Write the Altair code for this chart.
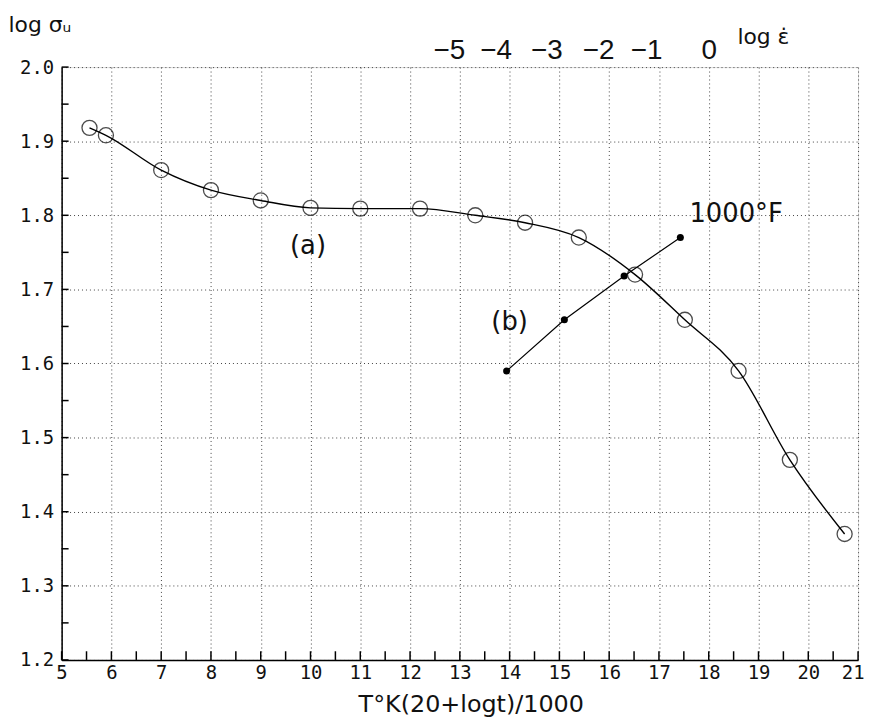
import altair as alt
import pandas as pd
import numpy as np

# Curve (a): open circles
a_x = [5.56, 5.89, 7.0, 8.0, 9.0, 10.0, 11.0, 12.2, 13.31, 14.31, 15.39, 16.52, 17.52, 18.6, 19.63, 20.73]
a_y = [1.918, 1.908, 1.861, 1.834, 1.82, 1.81, 1.809, 1.809, 1.80, 1.79, 1.77, 1.72, 1.659, 1.59, 1.47, 1.37]

# Curve (b): filled dots
b_x = [13.94, 15.1, 16.3, 17.43]
b_y = [1.59, 1.659, 1.718, 1.77]

# Annotations
ann_text = ["(a)", "(b)", "1000°F"]
ann_x = [9.95, 14.0, 18.55]
ann_y = [1.759, 1.656, 1.802]

# Axis ticks / labels
x_major = list(range(5, 22))
x_minor = [5 + 0.5 * i for i in range(33)]
y_major = [round(1.2 + 0.1 * i, 2) for i in range(9)]
y_minor = [round(1.2 + 0.05 * i, 3) for i in range(17)]
top_pos = [12.78, 13.72, 14.74, 15.78, 16.74, 18.0]
top_lab = ["−5", "−4", "−3", "−2", "−1", "0"]

df_a = pd.DataFrame({"x": a_x, "y": a_y})
df_b = pd.DataFrame({"x": b_x, "y": b_y})
df_ann = pd.DataFrame({"x": ann_x, "y": ann_y, "t": ann_text})
df_xt = pd.DataFrame({"tx": x_minor, "ty0": [1.2] * len(x_minor), "ty1": [1.2117] * len(x_minor)})
df_yt = pd.DataFrame({"ty": y_minor, "tx0": [5.0] * len(y_minor), "tx1": [5.14] * len(y_minor)})

W, H = 802, 597

xs = alt.Scale(domain=[5, 21], nice=False, zero=False)
ys = alt.Scale(domain=[1.2, 2.0], nice=False, zero=False)

INK = "#111111"
MONO = "DejaVu Sans Mono"
SANS = "DejaVu Sans"

main_x_axis = alt.Axis(
    orient="bottom",
    values=x_major, grid=True, gridDash=[1, 3], gridColor="#444444", gridWidth=1,
    ticks=False, tickSize=0, domainColor="black", domainWidth=1.5,
    labelFont=MONO, labelFontSize=19, labelColor=INK, labelPadding=4,
    labelFlush=True, labelFlushOffset=6, labelOverlap=False,
    title="T°K(20+logt)/1000", titleFont=SANS, titleFontSize=24,
    titleFontWeight="normal", titleColor=INK, titleX=412, titleY=45,
    titleBaseline="middle", titleAlign="center",
)
main_y_axis = alt.Axis(
    orient="left",
    values=y_major, format=".1f", grid=True, gridDash=[1, 3], gridColor="#444444",
    gridWidth=1, ticks=False, tickSize=0, domainColor="black", domainWidth=1.5,
    labelFont=MONO, labelFontSize=19, labelColor=INK, labelPadding=8,
    labelOverlap=False,
    title="log σᵤ", titleFont=SANS, titleFontSize=22, titleFontWeight="normal",
    titleColor=INK, titleAngle=0, titleAlign="left", titleBaseline="middle",
    titleX=-54, titleY=-43,
)

line_a = alt.Chart(df_a).mark_line(color="black", strokeWidth=1.4, interpolate="monotone").encode(
    x=alt.X("x:Q", scale=xs, axis=main_x_axis),
    y=alt.Y("y:Q", scale=ys, axis=main_y_axis),
)

# inward ticks on bottom and left axes (drawn through the shared scales)
x_ticks = alt.Chart(df_xt).mark_rule(color="black", strokeWidth=1.5).encode(
    x=alt.X("tx:Q", scale=xs, axis=None),
    y=alt.Y("ty0:Q", scale=ys, axis=None),
    y2="ty1:Q",
)
y_ticks = alt.Chart(df_yt).mark_rule(color="black", strokeWidth=1.5).encode(
    y=alt.Y("ty:Q", scale=ys, axis=None),
    x=alt.X("tx0:Q", scale=xs, axis=None),
    x2="tx1:Q",
)

label_expr = "[{}][indexof([{}], datum.value)]".format(
    ",".join("'{}'".format(s) for s in top_lab),
    ",".join(str(p) for p in top_pos),
)

top_layer = alt.Chart(df_a).mark_point(opacity=0).encode(
    x=alt.X("x:Q", scale=xs, axis=alt.Axis(
        orient="top", values=top_pos, labelExpr=label_expr, ticks=False, tickSize=0,
        domain=False, grid=False, labelFont="Liberation Sans", labelFontSize=28,
        labelColor=INK, labelPadding=3, labelOverlap=False, labelFlush=False,
        title="log ε̇", titleFont=SANS, titleFontSize=22, titleFontWeight="normal",
        titleColor=INK, titleAngle=0, titleAlign="left", titleBaseline="middle",
        titleX=680, titleY=-31)),
    y=alt.Y("y:Q", scale=ys, axis=None),
)

circles = alt.Chart(df_a).mark_point(shape="circle", filled=False, size=230,
                                     color="black", strokeWidth=1.3).encode(
    x=alt.X("x:Q", scale=xs, axis=None),
    y=alt.Y("y:Q", scale=ys, axis=None),
)

line_b = alt.Chart(df_b).mark_line(color="black", strokeWidth=1.2).encode(
    x=alt.X("x:Q", scale=xs, axis=None),
    y=alt.Y("y:Q", scale=ys, axis=None),
)

dots = alt.Chart(df_b).mark_point(shape="circle", filled=True, size=50,
                                  color="black", opacity=1).encode(
    x=alt.X("x:Q", scale=xs, axis=None),
    y=alt.Y("y:Q", scale=ys, axis=None),
)

texts = alt.Chart(df_ann).mark_text(font=SANS, fontSize=26, color=INK,
                                    align="center", baseline="middle").encode(
    x=alt.X("x:Q", scale=xs, axis=None),
    y=alt.Y("y:Q", scale=ys, axis=None),
    text="t:N",
)

chart = alt.layer(line_a, top_layer, x_ticks, y_ticks, line_b, circles, dots, texts).resolve_axis(
    x="independent", y="independent"
).properties(
    width=W, height=H,
    autosize=alt.AutoSizeParams(type="none"),
    padding={"left": 54, "top": 57, "right": 8, "bottom": 60},
).configure_view(stroke=None).configure(background="white")

chart.save("out.html", embed_options={"renderer": "svg", "actions": False})
